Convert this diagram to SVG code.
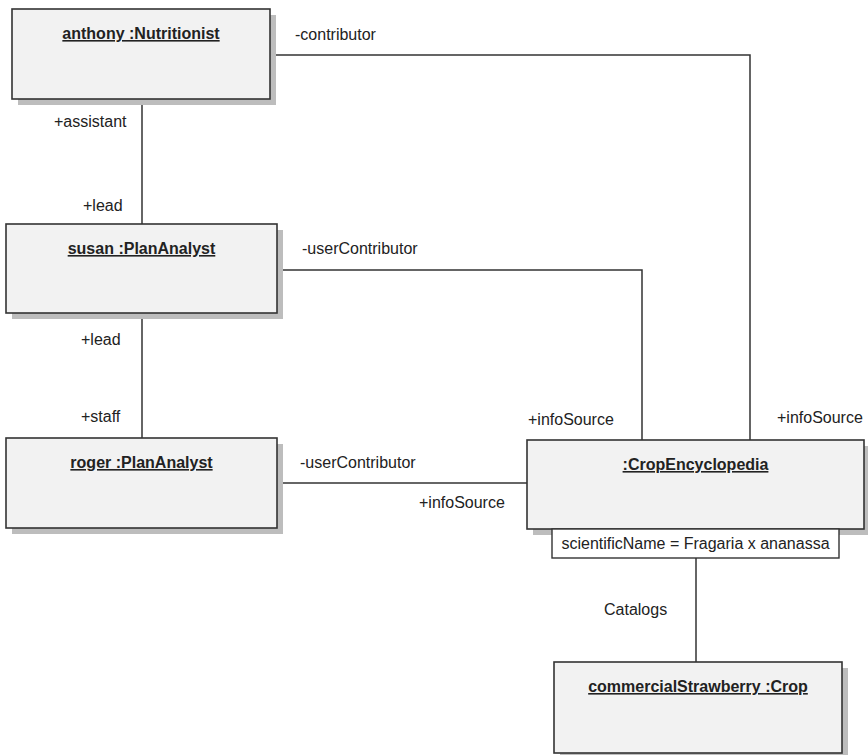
<svg xmlns="http://www.w3.org/2000/svg" width="868" height="755" viewBox="0 0 868 755">
<style>
.box{fill:#f2f2f2;stroke:#333;stroke-width:1.6}
.shadow{fill:#bdbdbd}
.attr{fill:#ffffff;stroke:#333;stroke-width:1.4}
.title{font-family:"Liberation Sans",Arial,sans-serif;font-size:16px;font-weight:bold;fill:#222;text-anchor:middle;text-decoration:underline}
.lbl{font-family:"Liberation Sans",Arial,sans-serif;font-size:16px;fill:#222}
.conn{fill:none;stroke:#333;stroke-width:1.5}
</style>
<rect width="868" height="755" fill="#ffffff"/>
<g id="connectors">
<polyline class="conn" points="142,99 142,224"/>
<polyline class="conn" points="142,313 142,438"/>
<polyline class="conn" points="270,55 750,55 750,440"/>
<polyline class="conn" points="277,270 642,270 642,440"/>
<polyline class="conn" points="277,483 527,483"/>
<polyline class="conn" points="696,558 696,662"/>
<text class="lbl" x="295" y="40">-contributor</text>
<text class="lbl" x="54" y="127">+assistant</text>
<text class="lbl" x="83" y="211">+lead</text>
<text class="lbl" x="302" y="254">-userContributor</text>
<text class="lbl" x="81" y="345">+lead</text>
<text class="lbl" x="81" y="422">+staff</text>
<text class="lbl" x="528" y="425">+infoSource</text>
<text class="lbl" x="777" y="423">+infoSource</text>
<text class="lbl" x="300" y="468">-userContributor</text>
<text class="lbl" x="419" y="508">+infoSource</text>
<text class="lbl" x="604" y="615">Catalogs</text>
</g>
<g id="anthony">
<rect class="shadow" x="18" y="15" width="258" height="90"/>
<rect class="box" x="12" y="9" width="258" height="90"/>
<text class="title" x="141" y="39">anthony :Nutritionist</text>
</g>
<g id="susan">
<rect class="shadow" x="12" y="230" width="271" height="89"/>
<rect class="box" x="6" y="224" width="271" height="89"/>
<text class="title" x="141.5" y="254">susan :PlanAnalyst</text>
</g>
<g id="roger">
<rect class="shadow" x="12" y="444" width="271" height="90"/>
<rect class="box" x="6" y="438" width="271" height="90"/>
<text class="title" x="141.5" y="468">roger :PlanAnalyst</text>
</g>
<g id="cropEncyclopedia">
<rect class="shadow" x="533" y="446" width="337" height="89"/>
<rect class="box" x="527" y="440" width="337" height="89"/>
<text class="title" x="695.5" y="470">:CropEncyclopedia</text>
<rect class="attr" x="552" y="529" width="287" height="29"/>
<text class="lbl" x="695.5" y="549" text-anchor="middle">scientificName = Fragaria x ananassa</text>
</g>
<g id="commercialStrawberry">
<rect class="shadow" x="560" y="668" width="288" height="91"/>
<rect class="box" x="554" y="662" width="288" height="91"/>
<text class="title" x="698" y="692">commercialStrawberry :Crop</text>
</g>
</svg>
